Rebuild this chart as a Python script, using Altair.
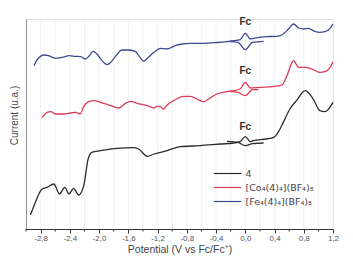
import altair as alt
import pandas as pd

# Cyclic voltammograms (arbitrary current units, offset for clarity)
# compound 4 (black)
k_x = [-2.94, -2.89, -2.78, -2.71, -2.62, -2.54, -2.47, -2.41, -2.35, -2.28, -2.21, -2.15, -2.10, -1.98,
       -1.75, -1.53, -1.46, -1.34, -1.25, -1.16, -1.07, -0.89, -0.62, -0.34, -0.16, -0.07, 0.0, 0.07,
       0.11, 0.29, 0.39, 0.45, 0.52, 0.61, 0.70, 0.82, 0.93, 1.02, 1.09, 1.2]
k_y = [4.2, 7.0, 12.0, 12.5, 13.5, 10.5, 12.5, 10.5, 12.2, 10.2, 13.0, 21.0, 23.0, 23.5,
       24.2, 24.4, 24.0, 21.8, 22.5, 23.0, 23.5, 24.7, 25.0, 25.5, 25.8, 26.2, 27.7, 26.2,
       26.5, 27.0, 27.5, 29.0, 32.0, 36.0, 38.5, 41.5, 39.0, 35.5, 35.2, 38.0]
k_fc_x = [-0.25, -0.10, 0.0, 0.10, 0.25]
k_fc_y = [26.3, 26.0, 25.0, 25.6, 25.8]

# [Co4(4)4](BF4)8 (red)
r_x = [-2.78, -2.71, -2.66, -2.60, -2.48, -2.39, -2.32, -2.26, -2.21, -2.14, -2.07, -1.98, -1.84, -1.73,
       -1.64, -1.57, -1.48, -1.34, -1.25, -1.21, -1.16, -1.12, -1.07, -0.98, -0.84, -0.75, -0.66, -0.57,
       -0.50, -0.39, -0.25, -0.16, -0.07, 0.0, 0.07, 0.20, 0.39, 0.50, 0.57, 0.64, 0.66, 0.73, 0.82,
       0.91, 1.02, 1.09, 1.16, 1.2]
r_y = [33.5, 35.0, 35.2, 34.5, 34.5, 34.8, 35.0, 34.5, 36.8, 38.2, 38.5, 38.0, 37.0, 36.3,
       37.7, 38.3, 37.7, 37.0, 36.3, 36.8, 36.7, 36.0, 37.2, 38.5, 39.8, 39.8, 39.0, 38.2,
       39.0, 40.5, 41.2, 41.5, 42.0, 44.0, 42.3, 42.5, 42.8, 43.2, 46.0, 50.0, 50.5, 48.5, 48.5,
       48.0, 47.0, 47.2, 48.5, 50.2]
r_fc_x = [-0.21, -0.10, 0.0, 0.10, 0.18]
r_fc_y = [41.3, 41.0, 40.0, 41.8, 41.8]

# [Fe4(4)4](BF4)8 (blue)
b_x = [-2.89, -2.84, -2.75, -2.69, -2.60, -2.50, -2.41, -2.32, -2.25, -2.19, -2.14, -2.08, -2.03, -1.96,
       -1.89, -1.82, -1.75, -1.69, -1.59, -1.50, -1.44, -1.39, -1.34, -1.25, -1.16, -1.07, -1.03, -0.96,
       -0.87, -0.75, -0.62, -0.43, -0.25, -0.16, -0.07, 0.0, 0.07, 0.11, 0.29, 0.43, 0.50, 0.57, 0.61,
       0.66, 0.73, 0.80, 0.86, 0.95, 1.02, 1.09, 1.16, 1.2]
b_y = [49.0, 51.0, 52.2, 52.0, 51.2, 51.5, 52.0, 51.8, 51.7, 51.0, 51.8, 53.3, 52.5, 50.5,
       49.3, 50.5, 52.5, 53.7, 53.7, 53.2, 51.5, 50.3, 51.2, 53.0, 54.2, 54.0, 54.3, 55.0,
       55.5, 55.7, 55.7, 55.9, 56.2, 56.5, 56.8, 58.7, 57.0, 57.2, 57.7, 57.8, 58.2, 59.5, 60.5,
       61.5, 60.3, 60.0, 60.2, 59.3, 59.0, 59.2, 60.2, 61.5]
b_fc_x = [-0.20, -0.10, 0.0, 0.10, 0.25]
b_fc_y = [56.2, 56.0, 53.8, 56.0, 56.3]

series_names = ["4", "[Co₄(4)₄](BF₄)₈", "[Fe₄(4)₄](BF₄)₈"]
series_colors = ["#2b2b2b", "#dc3b55", "#3f4891"]

fc_label_x = [0.0, 0.0, 0.0]
fc_label_y = [30.6, 47.3, 62.0]

major_ticks = [-2.8, -2.4, -2.0, -1.6, -1.2, -0.8, -0.4, 0.0, 0.4, 0.8, 1.2]
minor_ticks = [-3.0, -2.6, -2.2, -1.8, -1.4, -1.0, -0.6, -0.2, 0.2, 0.6, 1.0]

rows = []
for name, xs, ys, fxs, fys in [
    (series_names[0], k_x, k_y, k_fc_x, k_fc_y),
    (series_names[1], r_x, r_y, r_fc_x, r_fc_y),
    (series_names[2], b_x, b_y, b_fc_x, b_fc_y),
]:
    for i, (xv, yv) in enumerate(zip(xs, ys)):
        rows.append({"series": name, "seg": name + "-main", "i": i, "x": xv, "y": yv})
    for i, (xv, yv) in enumerate(zip(fxs, fys)):
        rows.append({"series": name, "seg": name + "-fc", "i": i, "x": xv, "y": yv})
df = pd.DataFrame(rows)

xscale = alt.Scale(domain=[-3.0, 1.2], nice=False, zero=False)
yscale = alt.Scale(domain=[0, 63], nice=False, zero=False)

xaxis = alt.Axis(values=major_ticks, title="Potential (V vs Fc/Fc⁺)",
                 labelExpr="replace(replace(format(datum.value, '.1f'), '.', ','), '−', '-')",
                 grid=False, domainColor="#333", tickColor="#333", tickSize=4,
                 labelFontSize=8, labelColor="#555", labelPadding=1, labelOverlap=False,
                 labelFlush=False,
                 titleFontSize=10.5, titleColor="#444", titleFontWeight="normal",
                 titlePadding=2, labelFont="Liberation Sans", titleFont="Liberation Sans")
yaxis = alt.Axis(labels=False, ticks=False, grid=False, domainColor="#333",
                 title="Current (u.a.)", titleFontSize=10, titleColor="#444",
                 titleFontWeight="normal", titleFont="Liberation Sans",
                 titleX=-12, titleY=96, titleAngle=270, titleAlign="center",
                 titleBaseline="middle")

X = alt.X("x:Q", scale=xscale, axis=xaxis)
Y = alt.Y("y:Q", scale=yscale, axis=yaxis)

grid_df = pd.DataFrame({"x": sorted(major_ticks + minor_ticks)})
grid = alt.Chart(grid_df).mark_rule(color="#f1f1f1", strokeWidth=1).encode(
    x=X, y=alt.value(0), y2=alt.value(210)
)
minor = alt.Chart(pd.DataFrame({"x": minor_ticks})).mark_rule(color="#333", strokeWidth=1).encode(
    x=X, y=alt.value(210), y2=alt.value(212.5)
)

lines = alt.Chart(df).mark_line(strokeWidth=1.3, interpolate="monotone").encode(
    x=X,
    y=Y,
    color=alt.Color("series:N", scale=alt.Scale(domain=series_names, range=series_colors),
                    legend=alt.Legend(title=None, orient="none", legendX=195, legendY=148,
                                      symbolType="M-2.5,0H2.5", symbolSize=121,
                                      symbolStrokeWidth=1.2, symbolFillColor="transparent",
                                      labelFontSize=9.5, labelColor="#444", labelFont="DejaVu Sans",
                                      rowPadding=3, labelOffset=11.5, padding=0)),
    detail="seg:N",
    order="i:Q",
)

fc = alt.Chart(pd.DataFrame({"x": fc_label_x, "y": fc_label_y, "t": ["Fc"] * 3})).mark_text(
    fontSize=10, fontWeight="bold", color="#333", font="Liberation Sans"
).encode(x=X, y=Y, text="t:N")

chart = alt.layer(grid, minor, lines, fc).properties(
    width=307, height=210,
    autosize=alt.AutoSizeParams(type="none"),
    padding={"left": 18, "top": 11, "right": 12, "bottom": 27},
).configure_view(stroke=None).configure(background="white")

chart.save("out.html", embed_options={"renderer": "svg", "actions": False})
